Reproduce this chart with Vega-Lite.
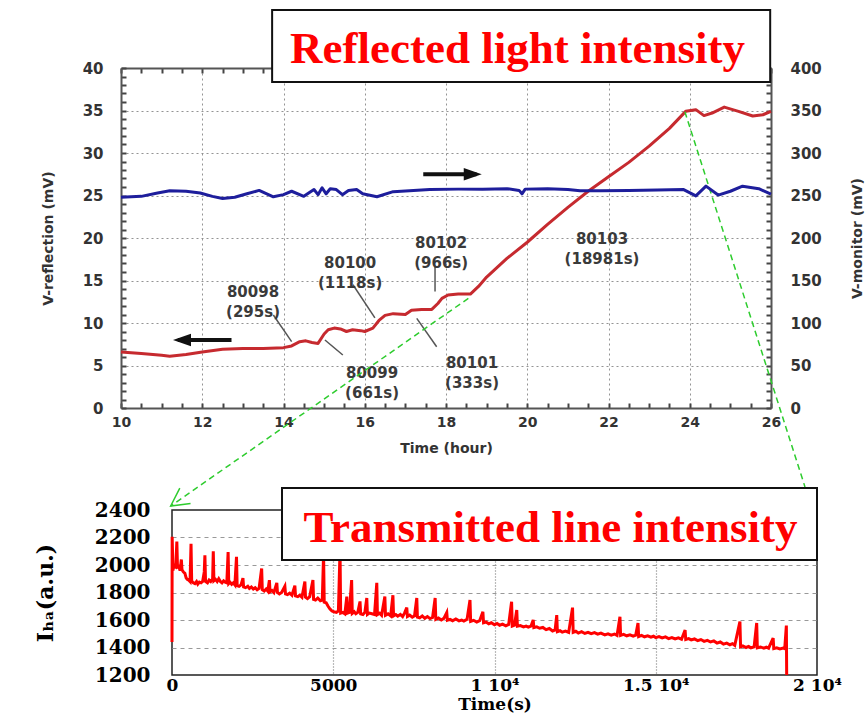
{
  "$schema": "https://vega.github.io/schema/vega-lite/v6.json",
  "background": "white",
  "padding": {"left": 33, "top": 9, "right": 0, "bottom": 0},
  "bounds": "flush",
  "spacing": 102,
  "config": {"font": "DejaVu Sans", "view": {"stroke": null}},
  "datasets": {
    "reflection": [
      {"t": 10.0, "v": 6.6}, {"t": 10.5, "v": 6.4}, {"t": 11.0, "v": 6.2}, {"t": 11.2, "v": 6.1},
      {"t": 11.6, "v": 6.3}, {"t": 12.0, "v": 6.6}, {"t": 12.5, "v": 6.9}, {"t": 13.0, "v": 7.0},
      {"t": 13.5, "v": 7.0}, {"t": 14.0, "v": 7.1}, {"t": 14.2, "v": 7.3}, {"t": 14.4, "v": 7.8},
      {"t": 14.55, "v": 7.9}, {"t": 14.7, "v": 7.7}, {"t": 14.85, "v": 7.6}, {"t": 15.0, "v": 8.7},
      {"t": 15.1, "v": 9.2}, {"t": 15.25, "v": 9.4}, {"t": 15.4, "v": 9.3}, {"t": 15.55, "v": 9.0},
      {"t": 15.7, "v": 9.2}, {"t": 15.9, "v": 9.1}, {"t": 16.0, "v": 9.0}, {"t": 16.2, "v": 9.4},
      {"t": 16.35, "v": 10.3}, {"t": 16.5, "v": 10.9}, {"t": 16.7, "v": 11.1}, {"t": 17.0, "v": 11.0},
      {"t": 17.15, "v": 11.5}, {"t": 17.4, "v": 11.6}, {"t": 17.65, "v": 11.6}, {"t": 17.8, "v": 12.3},
      {"t": 17.9, "v": 12.9}, {"t": 18.05, "v": 13.3}, {"t": 18.3, "v": 13.4}, {"t": 18.6, "v": 13.4},
      {"t": 18.8, "v": 14.3}, {"t": 19.0, "v": 15.4}, {"t": 19.5, "v": 17.6}, {"t": 20.0, "v": 19.5},
      {"t": 20.5, "v": 21.6}, {"t": 21.0, "v": 23.6}, {"t": 21.5, "v": 25.5}, {"t": 22.0, "v": 27.2},
      {"t": 22.5, "v": 28.9}, {"t": 23.0, "v": 30.8}, {"t": 23.5, "v": 32.9}, {"t": 23.9, "v": 34.9},
      {"t": 24.15, "v": 35.1}, {"t": 24.35, "v": 34.4}, {"t": 24.55, "v": 34.7}, {"t": 24.85, "v": 35.4},
      {"t": 25.2, "v": 34.9}, {"t": 25.55, "v": 34.35}, {"t": 25.8, "v": 34.5}, {"t": 26.0, "v": 34.9}
    ],
    "monitor": [
      {"t": 10.0, "m": 248}, {"t": 10.5, "m": 249}, {"t": 10.9, "m": 253}, {"t": 11.2, "m": 255.5},
      {"t": 11.6, "m": 255}, {"t": 11.95, "m": 253}, {"t": 12.25, "m": 249}, {"t": 12.5, "m": 246.5},
      {"t": 12.8, "m": 248}, {"t": 13.1, "m": 252}, {"t": 13.4, "m": 256}, {"t": 13.75, "m": 248.5},
      {"t": 14.0, "m": 251}, {"t": 14.2, "m": 255}, {"t": 14.5, "m": 249}, {"t": 14.75, "m": 257},
      {"t": 14.85, "m": 251}, {"t": 14.95, "m": 259}, {"t": 15.05, "m": 252}, {"t": 15.15, "m": 258},
      {"t": 15.3, "m": 257}, {"t": 15.45, "m": 251}, {"t": 15.6, "m": 256}, {"t": 15.8, "m": 257},
      {"t": 15.95, "m": 252}, {"t": 16.3, "m": 248.5}, {"t": 16.7, "m": 254.5}, {"t": 17.2, "m": 256},
      {"t": 17.6, "m": 257}, {"t": 18.3, "m": 257.5}, {"t": 18.9, "m": 257.5}, {"t": 19.5, "m": 258},
      {"t": 19.8, "m": 256}, {"t": 19.87, "m": 252}, {"t": 19.95, "m": 257.5}, {"t": 20.5, "m": 258},
      {"t": 21.0, "m": 257}, {"t": 21.3, "m": 255.5}, {"t": 21.8, "m": 255.5}, {"t": 22.5, "m": 256},
      {"t": 23.2, "m": 256.5}, {"t": 23.85, "m": 257}, {"t": 24.15, "m": 249.5}, {"t": 24.4, "m": 261},
      {"t": 24.7, "m": 250.5}, {"t": 25.0, "m": 255}, {"t": 25.3, "m": 261}, {"t": 25.7, "m": 258},
      {"t": 26.0, "m": 251.5}
    ],
    "shots": [
      {"t": 13.25, "v": 13.68, "label": "80098\n(295s)"},
      {"t": 16.18, "v": 4.08, "label": "80099\n(661s)"},
      {"t": 15.64, "v": 17.02, "label": "80100\n(1118s)"},
      {"t": 18.64, "v": 5.26, "label": "80101\n(333s)"},
      {"t": 17.88, "v": 19.47, "label": "80102\n(966s)"},
      {"t": 21.84, "v": 19.94, "label": "80103\n(18981s)"}
    ],
    "leaders": [
      {"t": 13.75, "v": 10.94, "t2": 14.2, "v2": 7.8},
      {"t": 15.02, "v": 8.0, "t2": 15.46, "v2": 6.24},
      {"t": 15.71, "v": 14.5, "t2": 16.25, "v2": 10.6},
      {"t": 17.28, "v": 10.55, "t2": 17.77, "v2": 7.2},
      {"t": 17.73, "v": 16.6, "t2": 17.73, "v2": 13.7}
    ],
    "transmitted": [
      {"s": 0, "v": 1440}, {"s": 5, "v": 2205}, {"s": 30, "v": 1960}, {"s": 60, "v": 2010}, {"s": 90, "v": 1975},
      {"s": 120, "v": 2000}, {"s": 150, "v": 2170}, {"s": 170, "v": 1985}, {"s": 210, "v": 1990}, {"s": 250, "v": 1960},
      {"s": 290, "v": 2040}, {"s": 310, "v": 1965}, {"s": 350, "v": 1950}, {"s": 400, "v": 1940}, {"s": 440, "v": 1905},
      {"s": 480, "v": 1895}, {"s": 520, "v": 1890}, {"s": 560, "v": 1880}, {"s": 590, "v": 2155}, {"s": 610, "v": 1885},
      {"s": 660, "v": 1870}, {"s": 710, "v": 1865}, {"s": 760, "v": 1880}, {"s": 800, "v": 1860}, {"s": 850, "v": 1875},
      {"s": 900, "v": 1870}, {"s": 950, "v": 1880}, {"s": 1000, "v": 1950}, {"s": 1020, "v": 2070}, {"s": 1040, "v": 1880},
      {"s": 1100, "v": 1870}, {"s": 1150, "v": 1890}, {"s": 1200, "v": 1880}, {"s": 1260, "v": 1900}, {"s": 1280, "v": 2100},
      {"s": 1300, "v": 1885}, {"s": 1350, "v": 1895}, {"s": 1400, "v": 1880}, {"s": 1450, "v": 1900}, {"s": 1500, "v": 1880},
      {"s": 1550, "v": 1870}, {"s": 1600, "v": 1885}, {"s": 1650, "v": 1875}, {"s": 1700, "v": 1870}, {"s": 1740, "v": 2095},
      {"s": 1760, "v": 1865}, {"s": 1800, "v": 1875}, {"s": 1850, "v": 1860}, {"s": 1900, "v": 1870}, {"s": 1950, "v": 1855},
      {"s": 2000, "v": 2060}, {"s": 2020, "v": 1850}, {"s": 2080, "v": 1845}, {"s": 2140, "v": 1855}, {"s": 2200, "v": 1905},
      {"s": 2220, "v": 1840}, {"s": 2280, "v": 1835}, {"s": 2350, "v": 1845}, {"s": 2400, "v": 1830}, {"s": 2460, "v": 1840},
      {"s": 2520, "v": 1825}, {"s": 2580, "v": 1835}, {"s": 2640, "v": 1820}, {"s": 2700, "v": 1830}, {"s": 2780, "v": 1975},
      {"s": 2800, "v": 1820}, {"s": 2860, "v": 1810}, {"s": 2920, "v": 1825}, {"s": 2970, "v": 1810}, {"s": 3020, "v": 1890},
      {"s": 3040, "v": 1805}, {"s": 3100, "v": 1815}, {"s": 3160, "v": 1800}, {"s": 3250, "v": 1870}, {"s": 3270, "v": 1800},
      {"s": 3330, "v": 1790}, {"s": 3400, "v": 1800}, {"s": 3500, "v": 1845}, {"s": 3520, "v": 1790}, {"s": 3580, "v": 1785},
      {"s": 3650, "v": 1795}, {"s": 3720, "v": 1780}, {"s": 3810, "v": 1850}, {"s": 3830, "v": 1775}, {"s": 3900, "v": 1770},
      {"s": 3960, "v": 1780}, {"s": 4030, "v": 1765}, {"s": 4120, "v": 1880}, {"s": 4140, "v": 1765}, {"s": 4200, "v": 1755},
      {"s": 4270, "v": 1770}, {"s": 4370, "v": 1890}, {"s": 4390, "v": 1750}, {"s": 4450, "v": 1745}, {"s": 4520, "v": 1760},
      {"s": 4600, "v": 1740}, {"s": 4660, "v": 1745}, {"s": 4700, "v": 2080}, {"s": 4720, "v": 1730}, {"s": 4780, "v": 1725},
      {"s": 4840, "v": 1700}, {"s": 4900, "v": 1680}, {"s": 4960, "v": 1665}, {"s": 5020, "v": 1660}, {"s": 5100, "v": 1655},
      {"s": 5160, "v": 1665}, {"s": 5210, "v": 2110}, {"s": 5230, "v": 1650}, {"s": 5300, "v": 1655}, {"s": 5360, "v": 1645},
      {"s": 5420, "v": 1770}, {"s": 5440, "v": 1650}, {"s": 5500, "v": 1655}, {"s": 5570, "v": 1890}, {"s": 5590, "v": 1648},
      {"s": 5650, "v": 1660}, {"s": 5700, "v": 1645}, {"s": 5760, "v": 1655}, {"s": 5830, "v": 1735}, {"s": 5850, "v": 1645},
      {"s": 5920, "v": 1640}, {"s": 5980, "v": 1655}, {"s": 6040, "v": 1760}, {"s": 6060, "v": 1640}, {"s": 6120, "v": 1650},
      {"s": 6200, "v": 1645}, {"s": 6280, "v": 1640}, {"s": 6350, "v": 1870}, {"s": 6370, "v": 1640}, {"s": 6440, "v": 1650},
      {"s": 6500, "v": 1635}, {"s": 6600, "v": 1770}, {"s": 6620, "v": 1635}, {"s": 6700, "v": 1645}, {"s": 6780, "v": 1630},
      {"s": 6850, "v": 1780}, {"s": 6870, "v": 1630}, {"s": 6940, "v": 1640}, {"s": 7000, "v": 1628}, {"s": 7080, "v": 1640},
      {"s": 7150, "v": 1625}, {"s": 7210, "v": 1650}, {"s": 7280, "v": 1690}, {"s": 7300, "v": 1625}, {"s": 7370, "v": 1635},
      {"s": 7450, "v": 1620}, {"s": 7520, "v": 1630}, {"s": 7590, "v": 1760}, {"s": 7610, "v": 1620}, {"s": 7680, "v": 1615},
      {"s": 7760, "v": 1630}, {"s": 7840, "v": 1612}, {"s": 7920, "v": 1625}, {"s": 8000, "v": 1610}, {"s": 8080, "v": 1618},
      {"s": 8160, "v": 1760}, {"s": 8180, "v": 1605}, {"s": 8260, "v": 1615}, {"s": 8350, "v": 1600}, {"s": 8430, "v": 1612},
      {"s": 8520, "v": 1655}, {"s": 8540, "v": 1598}, {"s": 8620, "v": 1605}, {"s": 8700, "v": 1595}, {"s": 8800, "v": 1608},
      {"s": 8900, "v": 1594}, {"s": 8980, "v": 1600}, {"s": 9050, "v": 1592}, {"s": 9150, "v": 1605}, {"s": 9240, "v": 1745},
      {"s": 9260, "v": 1590}, {"s": 9350, "v": 1598}, {"s": 9450, "v": 1585}, {"s": 9540, "v": 1595}, {"s": 9640, "v": 1660},
      {"s": 9660, "v": 1580}, {"s": 9740, "v": 1585}, {"s": 9820, "v": 1572}, {"s": 9900, "v": 1580}, {"s": 10000, "v": 1565},
      {"s": 10080, "v": 1575}, {"s": 10160, "v": 1562}, {"s": 10250, "v": 1570}, {"s": 10350, "v": 1558}, {"s": 10440, "v": 1568},
      {"s": 10530, "v": 1733}, {"s": 10550, "v": 1556}, {"s": 10620, "v": 1562}, {"s": 10690, "v": 1673}, {"s": 10710, "v": 1555},
      {"s": 10800, "v": 1560}, {"s": 10900, "v": 1550}, {"s": 10980, "v": 1556}, {"s": 11050, "v": 1548}, {"s": 11130, "v": 1555},
      {"s": 11200, "v": 1600}, {"s": 11220, "v": 1545}, {"s": 11310, "v": 1550}, {"s": 11400, "v": 1540}, {"s": 11500, "v": 1546},
      {"s": 11600, "v": 1530}, {"s": 11700, "v": 1538}, {"s": 11800, "v": 1520}, {"s": 11880, "v": 1528}, {"s": 11930, "v": 1636},
      {"s": 11950, "v": 1515}, {"s": 12030, "v": 1522}, {"s": 12100, "v": 1512}, {"s": 12200, "v": 1520}, {"s": 12300, "v": 1510},
      {"s": 12420, "v": 1690}, {"s": 12440, "v": 1510}, {"s": 12520, "v": 1518}, {"s": 12600, "v": 1505}, {"s": 12700, "v": 1515},
      {"s": 12800, "v": 1502}, {"s": 12900, "v": 1510}, {"s": 13000, "v": 1500}, {"s": 13100, "v": 1508}, {"s": 13200, "v": 1497},
      {"s": 13300, "v": 1505}, {"s": 13420, "v": 1492}, {"s": 13520, "v": 1500}, {"s": 13620, "v": 1490}, {"s": 13720, "v": 1498},
      {"s": 13800, "v": 1488}, {"s": 13890, "v": 1624}, {"s": 13910, "v": 1488}, {"s": 14000, "v": 1495}, {"s": 14100, "v": 1485},
      {"s": 14200, "v": 1492}, {"s": 14300, "v": 1482}, {"s": 14380, "v": 1490}, {"s": 14450, "v": 1578}, {"s": 14470, "v": 1480},
      {"s": 14560, "v": 1488}, {"s": 14650, "v": 1478}, {"s": 14750, "v": 1485}, {"s": 14850, "v": 1475}, {"s": 14930, "v": 1482},
      {"s": 15000, "v": 1472}, {"s": 15100, "v": 1480}, {"s": 15200, "v": 1470}, {"s": 15300, "v": 1477}, {"s": 15400, "v": 1465},
      {"s": 15500, "v": 1472}, {"s": 15600, "v": 1462}, {"s": 15700, "v": 1470}, {"s": 15800, "v": 1460}, {"s": 15910, "v": 1527},
      {"s": 15930, "v": 1458}, {"s": 16020, "v": 1465}, {"s": 16100, "v": 1455}, {"s": 16200, "v": 1462}, {"s": 16300, "v": 1450},
      {"s": 16400, "v": 1458}, {"s": 16500, "v": 1445}, {"s": 16600, "v": 1452}, {"s": 16700, "v": 1440}, {"s": 16800, "v": 1448},
      {"s": 16900, "v": 1432}, {"s": 17000, "v": 1440}, {"s": 17100, "v": 1425}, {"s": 17200, "v": 1432}, {"s": 17300, "v": 1420},
      {"s": 17380, "v": 1428}, {"s": 17450, "v": 1415}, {"s": 17610, "v": 1588}, {"s": 17630, "v": 1405}, {"s": 17700, "v": 1412},
      {"s": 17800, "v": 1400}, {"s": 17880, "v": 1408}, {"s": 17950, "v": 1398}, {"s": 18050, "v": 1405}, {"s": 18130, "v": 1578},
      {"s": 18150, "v": 1398}, {"s": 18250, "v": 1404}, {"s": 18350, "v": 1395}, {"s": 18430, "v": 1402}, {"s": 18500, "v": 1395},
      {"s": 18640, "v": 1469}, {"s": 18660, "v": 1392}, {"s": 18750, "v": 1398}, {"s": 18850, "v": 1390}, {"s": 18950, "v": 1396},
      {"s": 19000, "v": 1392}, {"s": 19050, "v": 1560}, {"s": 19060, "v": 1200}
    ]
  },
  "vconcat": [
    {
      "width": 650,
      "height": 340,
      "layer": [
        {
          "encoding": {
            "x": {
              "field": "t", "type": "quantitative",
              "scale": {"domain": [10, 26], "nice": false, "zero": false},
              "axis": {
                "orient": "bottom",
                "values": [10, 10.5, 11, 11.5, 12, 12.5, 13, 13.5, 14, 14.5, 15, 15.5, 16, 16.5, 17, 17.5, 18, 18.5, 19, 19.5, 20, 20.5, 21, 21.5, 22, 22.5, 23, 23.5, 24, 24.5, 25, 25.5, 26],
                "labelExpr": "datum.value % 2 === 0 ? format(datum.value, 'd') : ''",
                "labelFlush": false, "labelOverlap": false, "labelBound": false,
                "labelFont": "DejaVu Sans", "labelFontWeight": "bold", "labelFontSize": 14, "labelColor": "#333",
                "labelPadding": 12,
                "ticks": true, "tickSize": -5, "tickColor": "#444", "tickWidth": 2,
                "domainColor": "#555", "domainWidth": 2,
                "grid": true, "gridColor": "#888", "gridDash": [2, 3], "gridWidth": 1,
                "gridOpacity": {"condition": {"test": "datum.value % 2 === 0 && datum.value > 10 && datum.value < 26", "value": 0.9}, "value": 0},
                "title": "Time (hour)", "titleFont": "DejaVu Sans", "titleFontSize": 14, "titleFontWeight": "bold", "titleColor": "#333", "titlePadding": 12,
                "zindex": 0
              }
            },
            "y": {
              "field": "v", "type": "quantitative",
              "scale": {"domain": [0, 40], "nice": false, "zero": false},
              "axis": {
                "orient": "left",
                "values": [0, 1, 2, 3, 4, 5, 6, 7, 8, 9, 10, 11, 12, 13, 14, 15, 16, 17, 18, 19, 20, 21, 22, 23, 24, 25, 26, 27, 28, 29, 30, 31, 32, 33, 34, 35, 36, 37, 38, 39, 40],
                "labelExpr": "datum.value % 5 === 0 ? datum.label : ''",
                "labelOverlap": false, "labelBound": false,
                "labelFont": "DejaVu Sans", "labelFontWeight": "bold", "labelFontSize": 15, "labelColor": "#333",
                "labelPadding": 23,
                "ticks": true, "tickSize": -5, "tickColor": "#444", "tickWidth": 2,
                "domainColor": "#555", "domainWidth": 2,
                "grid": true, "gridColor": "#888", "gridDash": [2, 3], "gridWidth": 1,
                "gridOpacity": {"condition": {"test": "datum.value % 5 === 0 && datum.value > 0 && datum.value < 40", "value": 0.9}, "value": 0},
                "title": "V-reflection (mV)", "titleFont": "DejaVu Sans", "titleFontSize": 14, "titleFontWeight": "bold", "titleColor": "#333", "titlePadding": 27,
                "zindex": 0
              }
            }
          },
          "layer": [
            {
              "data": {"name": "reflection"},
              "mark": {"type": "line", "color": "#c62a2f", "strokeWidth": 3, "strokeJoin": "round"}
            },
            {
              "data": {"name": "leaders"},
              "mark": {"type": "rule", "color": "#555", "strokeWidth": 1.5},
              "encoding": {"x2": {"field": "t2"}, "y2": {"field": "v2"}}
            },
            {
              "data": {"name": "shots"},
              "mark": {"type": "text", "lineBreak": "\n", "lineHeight": 20, "font": "DejaVu Sans", "fontWeight": "bold", "fontSize": 15, "color": "#3a3a3a", "align": "center", "baseline": "middle"},
              "encoding": {"text": {"field": "label"}}
            },
            {
              "data": {"values": [{"t": 11.4, "t2": 12.72, "v": 8.0}, {"t": 17.44, "t2": 18.75, "v": 27.5}]},
              "mark": {"type": "rule", "color": "#111", "strokeWidth": 4},
              "encoding": {"x2": {"field": "t2"}}
            },
            {
              "data": {"values": [{"t": 11.28, "v": 8.0}]},
              "mark": {"type": "point", "shape": "M0,0L1.6,-0.55L1.6,0.55Z", "filled": true, "color": "#111", "size": 506, "opacity": 1}
            },
            {
              "data": {"values": [{"t": 18.88, "v": 27.5}]},
              "mark": {"type": "point", "shape": "M0,0L-1.6,-0.55L-1.6,0.55Z", "filled": true, "color": "#111", "size": 506, "opacity": 1}
            },
            {
              "data": {"values": [{"t": 18.55, "v": 12.9, "t2": 11.223, "v2": -11.53}, {"t": 23.88, "v": 34.86, "t2": 26.837, "v2": -9.29}]},
              "mark": {"type": "rule", "color": "#2ecc2e", "strokeWidth": 1.5, "strokeDash": [6, 4]},
              "encoding": {"x2": {"field": "t2"}, "y2": {"field": "v2"}}
            },
            {
              "data": {"values": [{"t": 11.223, "v": -11.53}]},
              "mark": {"type": "point", "shape": "M0.993,-0.12L0,0L0.456,-0.89", "filled": false, "stroke": "#2ecc2e", "strokeWidth": 1.5, "size": 1600, "opacity": 1}
            },
            {
              "data": {"values": [{"t": 13.72, "v": 46.82, "t2": 25.98, "v2": 38.35}]},
              "mark": {"type": "rect", "fill": "white", "stroke": "#111", "strokeWidth": 2},
              "encoding": {"x2": {"field": "t2"}, "y2": {"field": "v2"}}
            },
            {
              "data": {"values": [{"t": 19.76, "v": 40.59, "label": "Reflected light intensity"}]},
              "mark": {"type": "text", "font": "Liberation Serif", "fontWeight": "bold", "fontSize": 45, "color": "#ff0000", "align": "center", "baseline": "alphabetic"},
              "encoding": {"text": {"field": "label"}}
            }
          ]
        },
        {
          "data": {"name": "monitor"},
          "mark": {"type": "line", "color": "#1e1e9c", "strokeWidth": 3, "strokeJoin": "round"},
          "encoding": {
            "x": {
              "field": "t", "type": "quantitative",
              "scale": {"domain": [10, 26], "nice": false, "zero": false},
              "axis": {
                "orient": "top",
                "values": [10, 10.5, 11, 11.5, 12, 12.5, 13, 13.5, 14, 14.5, 15, 15.5, 16, 16.5, 17, 17.5, 18, 18.5, 19, 19.5, 20, 20.5, 21, 21.5, 22, 22.5, 23, 23.5, 24, 24.5, 25, 25.5, 26],
                "labels": false, "grid": false, "title": null,
                "ticks": true, "tickSize": -5, "tickColor": "#444", "tickWidth": 2,
                "domainColor": "#555", "domainWidth": 2,
                "zindex": 0
              }
            },
            "y": {
              "field": "m", "type": "quantitative",
              "scale": {"domain": [0, 400], "nice": false, "zero": false},
              "axis": {
                "orient": "right",
                "values": [0, 10, 20, 30, 40, 50, 60, 70, 80, 90, 100, 110, 120, 130, 140, 150, 160, 170, 180, 190, 200, 210, 220, 230, 240, 250, 260, 270, 280, 290, 300, 310, 320, 330, 340, 350, 360, 370, 380, 390, 400],
                "labelExpr": "datum.value % 50 === 0 ? datum.label : ''",
                "labelOverlap": false, "labelBound": false,
                "labelFont": "DejaVu Sans", "labelFontWeight": "bold", "labelFontSize": 15, "labelColor": "#333",
                "labelPadding": 24,
                "ticks": true, "tickSize": -5, "tickColor": "#444", "tickWidth": 2,
                "domainColor": "#555", "domainWidth": 2,
                "grid": false,
                "title": "V-monitor (mV)", "titleAngle": 270, "titleFont": "DejaVu Sans", "titleFontSize": 14, "titleFontWeight": "bold", "titleColor": "#333", "titlePadding": 43,
                "zindex": 0
              }
            }
          }
        }
      ],
      "resolve": {
        "scale": {"x": "independent", "y": "independent"},
        "axis": {"x": "independent", "y": "independent"}
      }
    },
    {
      "bounds": "flush",
      "spacing": 0,
      "hconcat": [
        {
          "width": 51,
          "height": 10,
          "data": {"values": [{"k": 0}]},
          "mark": {"type": "point", "opacity": 0}
        },
        {
          "width": 645,
          "height": 165,
          "view": {"stroke": "#222", "strokeWidth": 1.5},
          "encoding": {
            "x": {
              "field": "s", "type": "quantitative",
              "scale": {"domain": [0, 20000], "nice": false, "zero": false},
              "axis": {
                "values": [0, 5000, 10000, 15000, 20000],
                "labelExpr": "datum.value === 0 ? '0' : datum.value === 5000 ? '5000' : datum.value === 10000 ? '1 10⁴' : datum.value === 15000 ? '1.5 10⁴' : '2 10⁴'",
                "labelFlush": false, "labelOverlap": false, "labelBound": false,
                "labelFont": "DejaVu Serif", "labelFontWeight": "bold", "labelFontSize": 17, "labelColor": "#000",
                "labelPadding": 2, "ticks": false, "domain": false,
                "grid": true, "gridColor": "#777", "gridDash": [1, 2], "gridWidth": 1.2,
                "gridOpacity": {"condition": {"test": "datum.value > 0 && datum.value < 20000", "value": 1}, "value": 0},
                "title": "Time(s)", "titleFont": "DejaVu Serif", "titleFontSize": 17, "titleFontWeight": "bold", "titleColor": "#000", "titlePadding": 3
              }
            },
            "y": {
              "field": "v", "type": "quantitative",
              "scale": {"domain": [1200, 2400], "nice": false, "zero": false},
              "axis": {
                "values": [1200, 1400, 1600, 1800, 2000, 2200, 2400],
                "format": "d",
                "labelOverlap": false, "labelBound": false,
                "labelFont": "DejaVu Serif", "labelFontWeight": "bold", "labelFontSize": 20, "labelColor": "#000",
                "labelPadding": 22, "ticks": false, "domain": false,
                "grid": true, "gridColor": "#999", "gridDash": [4, 4], "gridWidth": 1,
                "gridOpacity": {"condition": {"test": "datum.value > 1200 && datum.value < 2400", "value": 1}, "value": 0},
                "title": "Iₕₐ(a.u.)", "titleFont": "DejaVu Serif", "titleFontSize": 22, "titleFontWeight": "bold", "titleColor": "#000", "titlePadding": 37
              }
            }
          },
          "layer": [
            {
              "data": {"name": "transmitted"},
              "mark": {"type": "line", "color": "#ff0000", "strokeWidth": 3, "strokeJoin": "miter"}
            },
            {
              "data": {"values": [{"s": 3411, "v": 2560, "s2": 20000, "v2": 2036}]},
              "mark": {"type": "rect", "fill": "white", "stroke": "#111", "strokeWidth": 2},
              "encoding": {"x2": {"field": "s2"}, "y2": {"field": "v2"}}
            },
            {
              "data": {"values": [{"s": 11736, "v": 2169, "label": "Transmitted line intensity"}]},
              "mark": {"type": "text", "font": "Liberation Serif", "fontWeight": "bold", "fontSize": 45, "color": "#ff0000", "align": "center", "baseline": "alphabetic"},
              "encoding": {"text": {"field": "label"}}
            }
          ]
        }
      ]
    }
  ]
}
